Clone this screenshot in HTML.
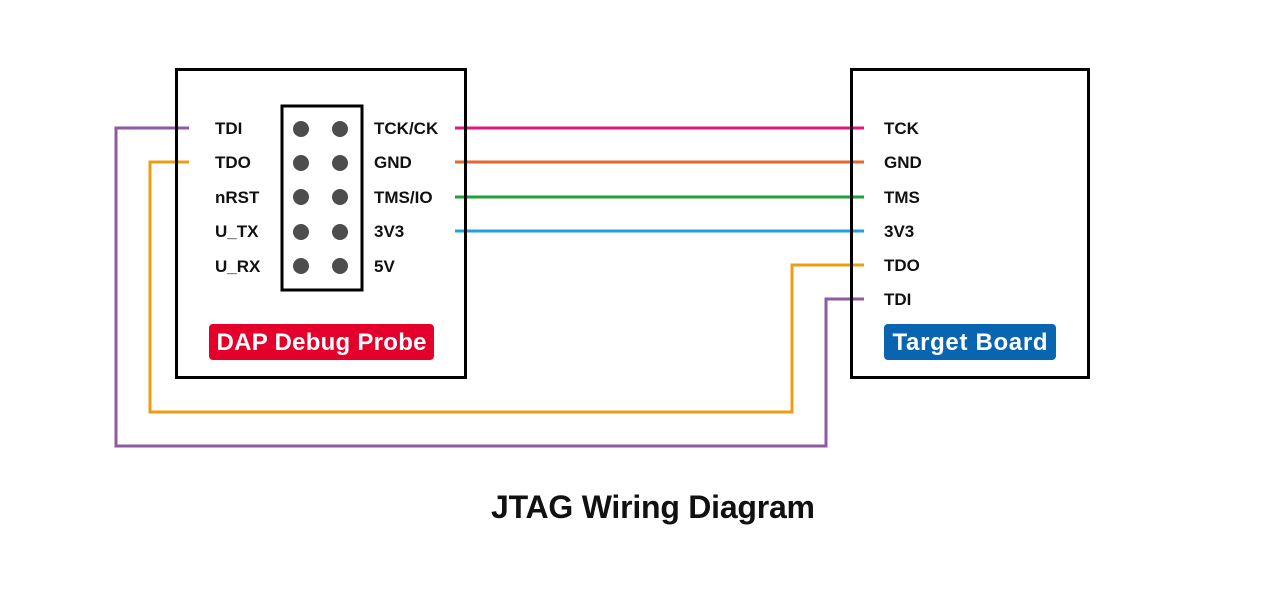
<!DOCTYPE html>
<html><head><meta charset="utf-8"><style>body{margin:0;background:#fff}</style></head><body>
<svg width="1262" height="603" xmlns="http://www.w3.org/2000/svg" font-family="Liberation Sans, DejaVu Sans, sans-serif" font-weight="bold">
<rect x="0" y="0" width="1262" height="603" fill="#fff"/>
<g fill="none" stroke-width="3">
<polyline points="189,128 116,128 116,446 826,446 826,299 864,299" stroke="#8e5aa0"/>
<polyline points="189,162 150,162 150,412 792,412 792,265 864,265" stroke="#f09c12"/>
<line x1="455" y1="128" x2="864" y2="128" stroke="#e2197c"/>
<line x1="455" y1="162" x2="864" y2="162" stroke="#e6662d"/>
<line x1="455" y1="197" x2="864" y2="197" stroke="#1ea23a"/>
<line x1="455" y1="231" x2="864" y2="231" stroke="#1ea2e0"/>
</g>
<rect x="176.5" y="69.5" width="289" height="308" fill="none" stroke="#000" stroke-width="3"/>
<rect x="851.5" y="69.5" width="237" height="308" fill="none" stroke="#000" stroke-width="3"/>
<rect x="282" y="106" width="80" height="184" fill="none" stroke="#000" stroke-width="3"/>
<g fill="#4d4d4d">
<circle cx="301" cy="129" r="8"/><circle cx="340" cy="129" r="8"/>
<circle cx="301" cy="163" r="8"/><circle cx="340" cy="163" r="8"/>
<circle cx="301" cy="197" r="8"/><circle cx="340" cy="197" r="8"/>
<circle cx="301" cy="232" r="8"/><circle cx="340" cy="232" r="8"/>
<circle cx="301" cy="266" r="8"/><circle cx="340" cy="266" r="8"/>
</g>
<g font-size="17" fill="#111">
<text x="215" y="134">TDI</text><text x="215" y="168">TDO</text><text x="215" y="203">nRST</text><text x="215" y="237">U_TX</text><text x="215" y="272">U_RX</text>
<text x="374" y="134">TCK/CK</text><text x="374" y="168">GND</text><text x="374" y="203">TMS/IO</text><text x="374" y="237">3V3</text><text x="374" y="272">5V</text>
<text x="884" y="134">TCK</text><text x="884" y="168">GND</text><text x="884" y="203">TMS</text><text x="884" y="237">3V3</text><text x="884" y="271">TDO</text><text x="884" y="305">TDI</text>
</g>
<rect x="209" y="324" width="225" height="36" rx="4" fill="#e4002b"/>
<text x="321.5" y="350" font-size="24" fill="#fff" text-anchor="middle" textLength="210">DAP Debug Probe</text>
<rect x="884" y="324" width="172" height="36" rx="4" fill="#0a65b1"/>
<text x="970" y="350" font-size="24" fill="#fff" text-anchor="middle" textLength="155">Target Board</text>
<text x="653" y="518" font-size="32" fill="#111" text-anchor="middle" textLength="324">JTAG Wiring Diagram</text>
</svg>
</body></html>
